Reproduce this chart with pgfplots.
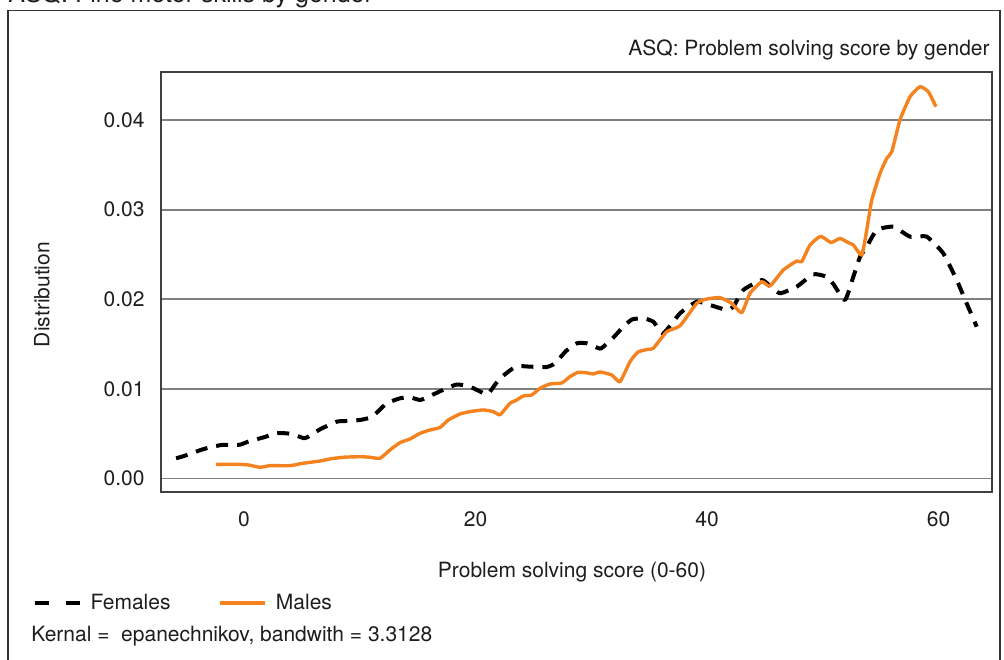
\documentclass[border=0pt]{standalone}
\usepackage{fontspec}
\setmainfont{TeX Gyre Heros}
\usepackage{pgfplots}
\pgfplotsset{compat=1.18}
\definecolor{maleorange}{RGB}{244,131,31}
\definecolor{txt}{RGB}{30,30,30}
\definecolor{gridgray}{RGB}{128,128,128}
\begin{document}
\begin{tikzpicture}
\useasboundingbox (0pt,0pt) rectangle (502pt,329.5pt);
\clip (0pt,0pt) rectangle (502pt,329.5pt);
\fill[white] (0pt,0pt) rectangle (502pt,329.5pt);
% outer frame
\draw[black!80, line width=0.6pt] (4pt,-5pt) rectangle (500pt,324.25pt);
% cut-off title
\node[anchor=base west, inner sep=0pt, text=txt, font=\fontsize{12.5}{15}\selectfont] at (4pt,328.3pt) {ASQ: Fine motor skills by gender};
% subtitle
\node[anchor=east, inner sep=0pt, text=txt, font=\fontsize{10.5}{12.6}\selectfont] at (495pt,304.5pt) {ASQ: Problem solving score by gender};
% note
\node[anchor=west, inner sep=0pt, text=txt, font=\fontsize{10.5}{12.6}\selectfont] at (15.5pt,11.5pt) {Kernal =\ \ epanechnikov, bandwith = 3.3128};
\begin{axis}[
  at={(80.5pt,83.5pt)}, anchor=south west,
  scale only axis, width=415.5pt, height=210pt,
  xmin=-7.17, xmax=64.62, ymin=-0.00151, ymax=0.04537,
  xtick={0,20,40,60}, ytick={0,0.01,0.02,0.03,0.04},
  scaled y ticks=false,
  /pgf/number format/assume math mode=true,
  yticklabel style={/pgf/number format/.cd, fixed, fixed zerofill, precision=2, /tikz/.cd, inner sep=0pt, xshift=-8pt},
  xticklabel style={inner sep=0pt, yshift=-9.4pt},
  major tick length=0pt,
  ticklabel style={font=\fontsize{10.5}{12.6}\selectfont, text=txt},
  ymajorgrids, grid style={gridgray, line width=0.8pt},
  axis line style={black!75, line width=0.6pt},
  xlabel={Problem solving score (0-60)},
  ylabel={Distribution},
  label style={font=\fontsize{10.5}{12.6}\selectfont, text=txt},
  xlabel style={at={(axis description cs:0.4946,-0.1905)}, anchor=center},
  ylabel style={at={(axis description cs:-0.1432,0.47)}, anchor=center},
  legend columns=2,
  legend style={draw=none, fill=none, inner sep=0pt, at={(axis description cs:-0.155,-0.264)}, anchor=west,
    font=\fontsize{10.5}{12.6}\selectfont, text=txt,
    nodes={inner sep=3pt, anchor=west},
    /tikz/every odd column/.append style={column sep=1.5pt},
    /tikz/every even column/.append style={column sep=21pt}},
  legend image code/.code={\draw[#1] (0pt,0pt) -- (22.5pt,0pt);},
  clip=false,
]
\addplot[forget plot, black, line width=2pt, dash pattern=on 6pt off 4.5pt, line join=round, smooth, tension=0.3] coordinates {
(-5.87,0.00225) (-5.18,0.00251) (-3.74,0.00318) (-2.94,0.00348) (-1.93,0.00374) (-1.21,0.00374)
(-0.35,0.00377) (0.37,0.00411) (1.90,0.00467) (2.68,0.00504) (3.69,0.00504) (4.41,0.00485)
(5.18,0.00449) (5.56,0.00467) (6.57,0.00549) (8.01,0.00634) (8.87,0.00642) (10.02,0.00653)
(10.89,0.00679) (11.46,0.00734) (12.33,0.00839) (13.48,0.00895) (14.34,0.00906) (15.21,0.00876)
(15.92,0.00913) (17.51,0.01007) (18.38,0.01049) (19.38,0.01032) (19.81,0.01007) (20.97,0.00938)
(21.25,0.00969) (22.12,0.01118) (23.5,0.0125) (24.71,0.01248) (26.15,0.01244) (26.87,0.01286)
(27.82,0.01423) (28.77,0.01509) (29.61,0.01509) (30.32,0.01471) (30.84,0.01451) (31.79,0.01557)
(32.77,0.01694) (33.52,0.01775) (34.50,0.01788) (35.36,0.0175) (36.22,0.0162) (37.67,0.01844)
(39.11,0.01973) (40.26,0.01936) (41.70,0.01881) (42.27,0.01917) (43.14,0.02104) (44.73,0.02215)
(45.44,0.02148) (46.31,0.02067) (47.75,0.02141) (49.18,0.02279) (50.34,0.02252) (50.91,0.02171)
(51.92,0.01992) (52.64,0.02252) (53.22,0.02475) (53.80,0.02587) (54.66,0.02773) (56.10,0.0281)
(57.54,0.02699) (58.98,0.02699) (60.41,0.02513) (61.57,0.02215) (62.43,0.01955) (63.30,0.01694)
};
\addplot[forget plot, maleorange, line width=1.7pt, line join=round, smooth, tension=0.3] coordinates {
(-2.42,0.00158) (-0.63,0.00158) (0.37,0.00151) (1.38,0.00125) (2.25,0.00143) (3.97,0.00143)
(5.12,0.0017) (6.57,0.00195) (7.43,0.00218) (8.58,0.00237) (10.02,0.00243) (10.89,0.00237)
(11.75,0.00225) (12.61,0.00318) (13.48,0.004) (14.34,0.00441) (15.21,0.00504) (16.07,0.00541)
(16.93,0.00569) (17.65,0.00653) (18.66,0.0072) (19.52,0.00746) (20.67,0.00765) (21.54,0.00746)
(22.12,0.00712) (22.98,0.00839) (23.56,0.00876) (24.13,0.00921) (24.86,0.00932) (25.57,0.01007)
(26.44,0.01055) (27.45,0.01066) (28.16,0.01136) (28.86,0.01185) (29.72,0.01177) (30.18,0.01166)
(30.76,0.01189) (31.77,0.01155) (32.48,0.0108) (33.35,0.01304) (34.04,0.01412) (34.93,0.01442)
(35.36,0.01453) (36.52,0.01638) (37.67,0.01705) (39.11,0.01955) (39.97,0.02003) (41.12,0.02018)
(42.13,0.01955) (43.00,0.0185) (43.71,0.02067) (44.73,0.02196) (45.44,0.02148) (46.59,0.02327)
(47.75,0.02427) (48.18,0.0242) (48.90,0.02606) (49.81,0.02703) (50.71,0.02634) (51.49,0.02679)
(52.21,0.02632) (52.64,0.02606) (53.37,0.02494) (53.80,0.02773) (54.23,0.03108) (54.95,0.03406)
(55.53,0.03574) (55.96,0.03647) (56.67,0.04001) (57.54,0.04261) (58.40,0.04373) (59.12,0.04317)
(59.78,0.0415)
};
\addlegendimage{black, line width=2pt, dash pattern=on 7pt off 8.5pt}
\addlegendentry{Females}
\addlegendimage{maleorange, line width=1.7pt}
\addlegendentry{Males}
\end{axis}
\end{tikzpicture}
\end{document}
